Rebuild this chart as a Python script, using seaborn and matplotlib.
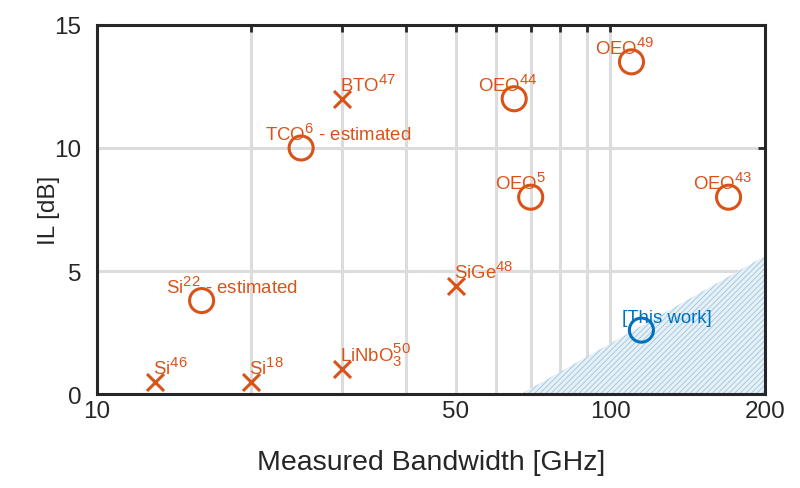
import numpy as np
import pandas as pd
import matplotlib
matplotlib.use("Agg")
import matplotlib.pyplot as plt
import matplotlib._mathtext as mathtext_internal
import seaborn as sns

sns.set_theme(style="white")
plt.rcParams['font.family'] = ['Liberation Sans', 'DejaVu Sans']
plt.rcParams['mathtext.default'] = 'regular'
plt.rcParams['hatch.linewidth'] = 0.6
# superscripts in the original are a bit larger than mathtext's default
mathtext_internal.SHRINK_FACTOR = 0.8

ORANGE = '#D95319'
BLUE = '#0072BD'

# data: reported devices (bandwidth in GHz, insertion loss in dB)
labels = ['Si$^{46}$', 'Si$^{18}$', 'LiNbO$_3^{50}$', 'SiGe$^{48}$', 'BTO$^{47}$',
          'Si$^{22}$ - estimated', 'TCO$^{6}$ - estimated', 'OEO$^{44}$',
          'OEO$^{5}$', 'OEO$^{49}$', 'OEO$^{43}$']
bandwidth = [13, 20, 30, 50, 30, 16, 25, 65, 70, 110, 170]
loss = [0.5, 0.5, 1.0, 4.4, 12.0, 3.8, 10.0, 12.0, 8.0, 13.5, 8.0]
kind = ['x', 'x', 'x', 'x', 'x', 'o', 'o', 'o', 'o', 'o', 'o']

this_label = '[This work]'
this_bw = [115]
this_il = [2.6]

# shaded target region (triangle)
region_bw = [67, 200, 200]
region_il = [0, 0, 5.6]

xticks = [10, 20, 30, 40, 50, 60, 70, 80, 90, 100, 200]
xtick_labels = ['10', '', '', '', '50', '', '', '', '', '100', '200']
yticks = [0, 5, 10, 15]

df = pd.DataFrame({'label': labels, 'bw': bandwidth, 'il': loss, 'kind': kind})
cross = df[df['kind'] == 'x']
circ = df[df['kind'] == 'o']

fig = plt.figure(figsize=(8, 4.89), dpi=100)
ax = fig.add_axes([0.121, 0.192, 0.835, 0.755])
ax.set_xscale('log')

ax.fill(region_bw, region_il, facecolor='#e6f0f7', edgecolor='#9cc4de',
        hatch='//////', linewidth=0, zorder=1)

sns.scatterplot(data=cross, x='bw', y='il', marker='x', s=150, color=ORANGE,
                linewidth=2.2, ax=ax, zorder=3, legend=False)
sns.scatterplot(data=circ, x='bw', y='il', marker='o', s=300, facecolor='none',
                edgecolor=ORANGE, linewidth=2.2, ax=ax, zorder=3, legend=False)
sns.scatterplot(x=this_bw, y=this_il, marker='o', s=300, facecolor='none',
                edgecolor=BLUE, linewidth=2.2, ax=ax, zorder=3, legend=False)

for _, r in df.iterrows():
    dx = -2 if r['kind'] == 'x' else -36
    ax.annotate(r['label'], (r['bw'], r['il']), xytext=(dx, 8),
                textcoords='offset pixels', ha='left', va='baseline',
                color=ORANGE, fontsize=13.4, zorder=4)
ax.annotate(this_label, (this_bw[0], this_il[0]), xytext=(-19, 8),
            textcoords='offset pixels', ha='left', va='baseline',
            color=BLUE, fontsize=13.4, zorder=4)

ax.set_xlim(10, 200)
ax.set_ylim(0, 15)
ax.set_xticks(xticks)
ax.set_xticklabels(xtick_labels)
ax.xaxis.set_minor_locator(matplotlib.ticker.NullLocator())
ax.set_yticks(yticks)
ax.grid(True, color='#dcdcdc', linewidth=2.2, zorder=0)
ax.set_axisbelow(True)
ax.tick_params(direction='in', length=5, width=2, top=True, right=True,
               labelsize=17.5, colors='#262626')
ax.tick_params(axis='y', pad=11)
ax.tick_params(axis='x', pad=4)
for sp in ax.spines.values():
    sp.set_linewidth(2.2)
    sp.set_color('#262626')
    sp.set_visible(True)

ax.set_xlabel('Measured Bandwidth [GHz]', fontsize=20.5, color='#262626')
ax.set_ylabel('IL [dB]', fontsize=17.5, color='#262626')
ax.xaxis.set_label_coords(0.5, -0.148)
ax.yaxis.set_label_coords(-0.055, 0.5)

plt.savefig('out.png', dpi=100)
plt.close()
